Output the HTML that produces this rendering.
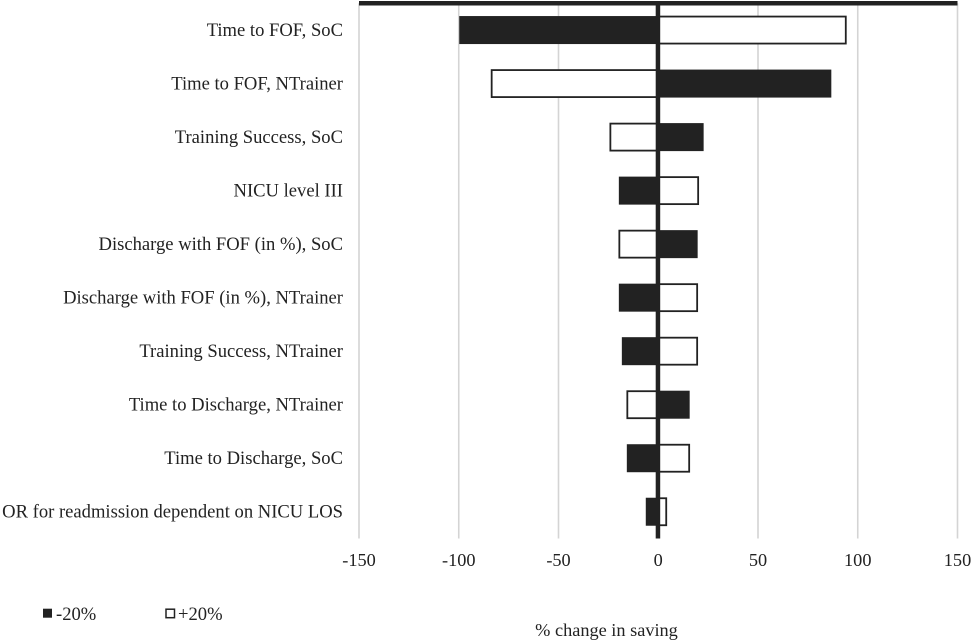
<!DOCTYPE html>
<html>
<head>
<meta charset="utf-8">
<style>
html,body{margin:0;padding:0;background:#fff;}
svg{display:block;}
text{font-family:"Liberation Serif",serif;fill:#222;font-size:18.3px;}
.cat{font-size:18.6px;}
.leg{font-size:18.6px;}
</style>
</head>
<body>
<svg id="chart" xmlns="http://www.w3.org/2000/svg" width="972" height="642" viewBox="0 0 972 642">
<g id="grid"></g>
<g id="bars"></g>
<g id="axes"></g>
<g id="labels"></g>
<g id="ticks"></g>
<text x="606.5" y="636" text-anchor="middle">% change in saving</text>
<g>
<rect x="43" y="608.7" width="9" height="9" fill="#222"/>
<text class="leg" x="56" y="620">-20%</text>
<rect x="166" y="609.2" width="8.5" height="8.5" fill="#fff" stroke="#222" stroke-width="1.5"/>
<text class="leg" x="178" y="620">+20%</text>
</g>
</svg>
<script>
const categories = ["Time to FOF, SoC","Time to FOF, NTrainer","Training Success, SoC","NICU level III","Discharge with FOF (in %), SoC","Discharge with FOF (in %), NTrainer","Training Success, NTrainer","Time to Discharge, NTrainer","Time to Discharge, SoC","OR for readmission dependent on NICU LOS"];
const minus20 = [-99.5,86.5,22.5,-19.5,19.5,-19.5,-18,15.5,-15.5,-6];
const plus20 = [94,-83.5,-24,20,-19.5,19.5,19.5,-15.5,15.5,4];
const tickValues = [-150,-100,-50,0,50,100,150];

const NS = "http://www.w3.org/2000/svg";
const xMin = -150, xMax = 150, pxLeft = 359, pxRight = 957.5;
const plotTop = 3.3, plotBottom = 538.5, barH = 27;
function xScale(v){ return pxLeft + (v - xMin) / (xMax - xMin) * (pxRight - pxLeft); }
function yCenter(i){ return plotTop + (plotBottom - plotTop) / categories.length * (i + 0.5); }
function make(tag, attrs, parent){
  const el = document.createElementNS(NS, tag);
  for (const k in attrs) el.setAttribute(k, attrs[k]);
  parent.appendChild(el);
  return el;
}
const gGrid = document.getElementById('grid');
const gBars = document.getElementById('bars');
const gAxes = document.getElementById('axes');
const gLabels = document.getElementById('labels');
const gTicks = document.getElementById('ticks');

tickValues.forEach(function(t){
  const line = make('line', {x1:xScale(t), x2:xScale(t), y1:plotTop, y2:plotBottom, stroke:'#d4d4d4', 'stroke-width':1.6}, gGrid);
  
  
  const label = make('text', {x:xScale(t), y:566, 'text-anchor':'middle'}, gTicks);
  label.textContent = String(t);
  
  
});

function drawBar(v, i, filled){
  const x0 = xScale(0), x1 = xScale(v);
  return make('rect', {
    x: Math.min(x0, x1), y: yCenter(i) - barH / 2,
    width: Math.abs(x1 - x0), height: barH,
    fill: filled ? '#222' : '#fff', stroke: '#222', 'stroke-width': filled ? 1 : 1.8
  }, gBars);
}
categories.forEach(function(c, i){
  const b1 = drawBar(plus20[i], i, false);
  
  
  const b2 = drawBar(minus20[i], i, true);
  
  
  const label = make('text', {x:343, y:yCenter(i) + 6, 'text-anchor':'end', class:'cat'}, gLabels);
  label.textContent = c;
  
  
});

const zeroLine = make('line', {x1:xScale(0) - 0.3, x2:xScale(0) - 0.3, y1:plotTop, y2:plotBottom, stroke:'#222', 'stroke-width':4.5}, gAxes);


const topLine = make('line', {x1:pxLeft, x2:pxRight, y1:3.3, y2:3.3, stroke:'#222', 'stroke-width':4.5}, gAxes);


</script>
</body>
</html>
